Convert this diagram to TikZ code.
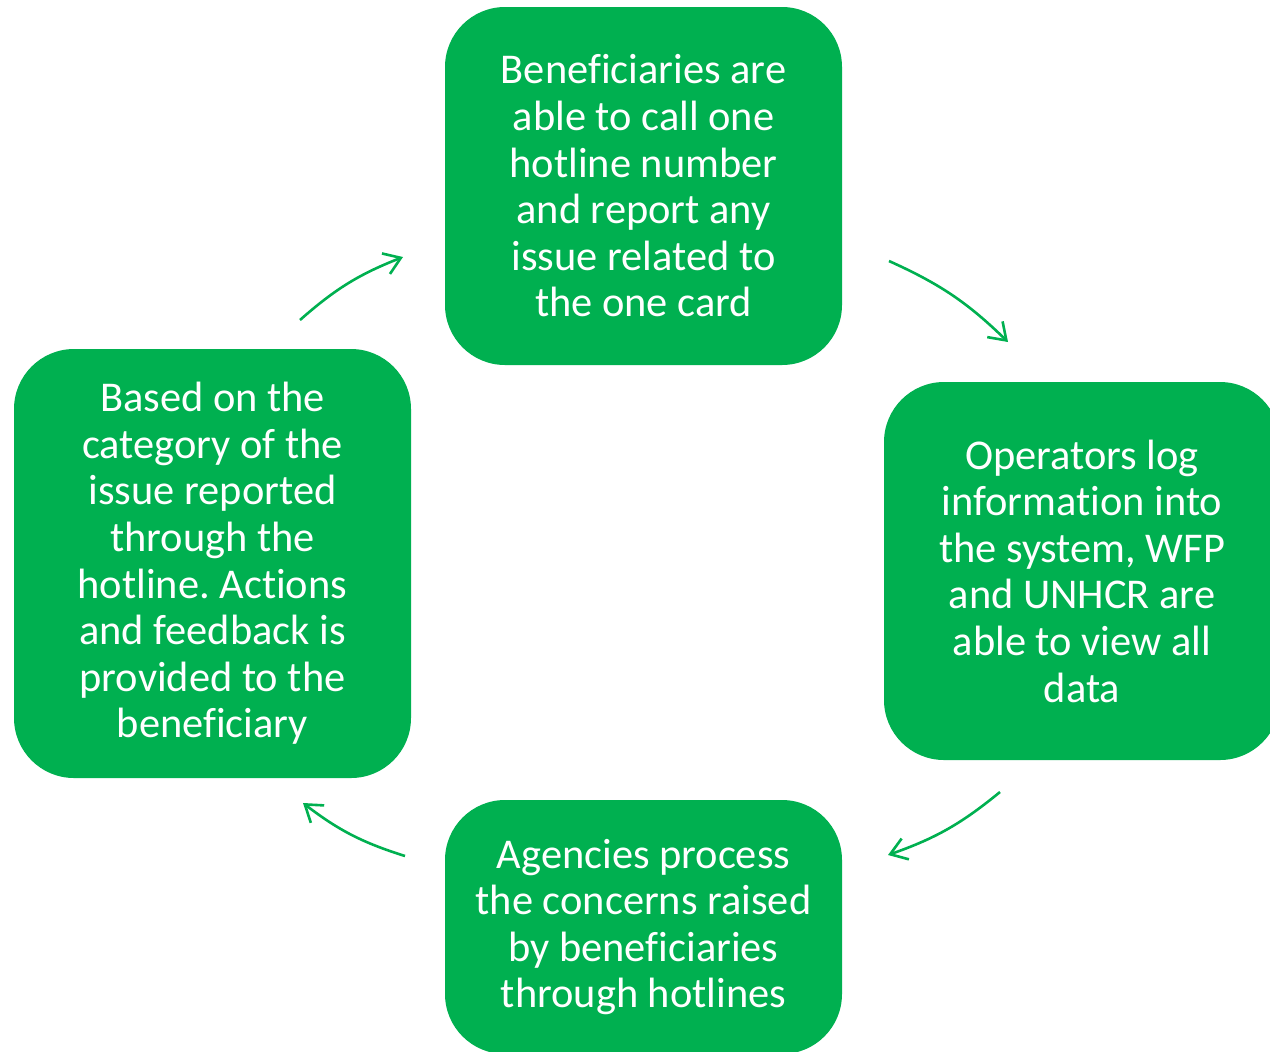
\documentclass[tikz,border=0pt]{standalone}
\usepackage{fontspec}
\setmainfont{Carlito}[Ligatures=NoCommon]
\usetikzlibrary{arrows.meta}
\definecolor{boxgreen}{HTML}{00B050}
\frenchspacing
\tikzset{
  stage/.style={fill=boxgreen, rounded corners=30pt, text=white, align=center,
    inner sep=0pt, font=\fontsize{21.2}{23.3}\selectfont},
  flow/.style={draw=boxgreen, line width=1.3pt, bend left=10,
    -{Straight Barb[length=8pt,width=11pt]}}
}
\begin{document}
\begin{tikzpicture}[x=0.5pt,y=-0.5pt]
        \useasboundingbox (0,0) rectangle (1270,1051);
        \clip (0,0) rectangle (1270,1051);
        \coordinate (T) at (643.5,186);
        \coordinate (R) at (1082,571);
        \coordinate (B) at (643.5,927);
        \coordinate (L) at (212.5,563.5);
        \node[stage, minimum width=198.5pt, minimum height=179pt] (call) at (T)
          {Beneficiaries are\\able to call one\\hotline number\\and report any\\issue related to\\the one card};
        \node[stage, minimum width=198pt, minimum height=189pt] (log) at (R)
          {Operators log\\information into\\the system, WFP\\and UNHCR are\\able to view all\\data};
        \node[stage, minimum width=198.5pt, minimum height=127pt] (process) at (B)
          {Agencies process\\the concerns raised\\by beneficiaries\\through hotlines};
        \node[stage, minimum width=198.5pt, minimum height=214.5pt] (feedback) at (L)
          {Based on the\\category of the\\issue reported\\through the\\hotline. Actions\\and feedback is\\provided to the\\beneficiary};
        % arrow ends
        \coordinate (a1) at (300,320);
        \coordinate (a2) at (403,257);
        \coordinate (b1) at (889,261);
        \coordinate (b2) at (1008,342);
        \coordinate (c1) at (1000,792);
        \coordinate (c2) at (888,855);
        \coordinate (d1) at (405,856);
        \coordinate (d2) at (303,803);
        \draw[flow] (a1) to (a2);
        \draw[flow] (b1) to (b2);
        \draw[flow] (c1) to (c2);
        \draw[flow] (d1) to (d2);
    \end{tikzpicture}
\end{document}
